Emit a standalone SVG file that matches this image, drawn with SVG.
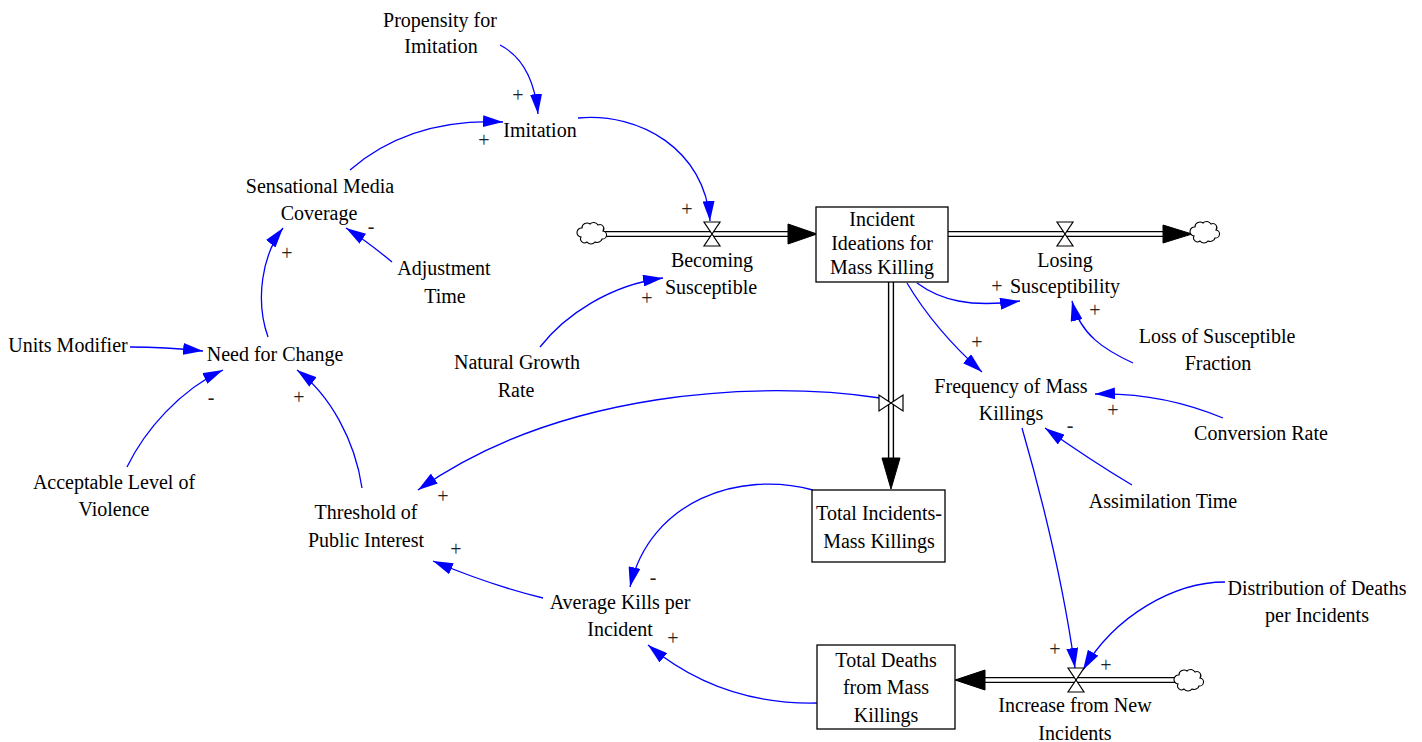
<svg xmlns="http://www.w3.org/2000/svg" width="1422" height="742" viewBox="0 0 1422 742">
<style>
text{font-family:"Liberation Serif","Times New Roman",serif;font-size:20px;fill:#000;text-anchor:middle}
.sg{font-size:20px;fill:#222}
.lk{fill:none;stroke:#0000ff;stroke-width:1.3;marker-end:url(#ah)}
.box{fill:#fff;stroke:#000;stroke-width:1.3}
.po{fill:none;stroke:#000;stroke-width:6.2}
.pi{fill:none;stroke:#fff;stroke-width:3.4}
.fh{fill:#000;stroke:#000;stroke-width:1}
.vl{fill:#fff;stroke:#000;stroke-width:1.2}
.cl{fill:#fff;stroke:#000;stroke-width:1.1}
</style>
<defs>
<marker id="ah" markerUnits="userSpaceOnUse" markerWidth="20" markerHeight="12" viewBox="0 0 20 12" refX="20" refY="6" orient="auto">
<path d="M0,0 L20,6 L0,12 z" fill="#0000ff"/>
</marker>
<path id="cloud" d="M-10,-6 a5,5 0 0 1 8,-4 a5,5 0 0 1 8,1 a4,4 0 0 1 5,6 a4,4 0 0 1 -1,8 a5,5 0 0 1 -7,3 a5,5 0 0 1 -8,0 a4,4 0 0 1 -6,-5 a4,4 0 0 1 1,-9 z"/>
</defs>
<rect width="1422" height="742" fill="#fff"/>

<g id="flows">
<path class="po" d="M603,234 H790"/><path class="pi" d="M603,234 H790"/>
<polygon class="fh" points="788,224 817,234 788,244"/>
<path class="po" d="M948,234 H1165"/><path class="pi" d="M948,234 H1165"/>
<polygon class="fh" points="1163,225 1192,234 1163,243"/>
<path class="po" d="M891,282 V460"/><path class="pi" d="M891,282 V460"/>
<polygon class="fh" points="882,458 891,489 900,458"/>
<path class="po" d="M1177,680 H983"/><path class="pi" d="M1177,680 H983"/>
<polygon class="fh" points="985,670 955,680 985,690"/>
</g>

<g id="connectors">
<path class="lk" d="M500,45 Q533,62 538,114"/>
<path class="lk" d="M350,170 Q410,118 503,122"/>
<path class="lk" d="M578,118 C640,112 705,150 710,221"/>
<path class="lk" d="M268,337 C255,300 262,255 283,228"/>
<path class="lk" d="M392,262 Q368,242 346,228"/>
<path class="lk" d="M130,347 Q165,347 203,351"/>
<path class="lk" d="M127,467 C145,430 180,390 223,370"/>
<path class="lk" d="M362,488 C355,440 330,395 297,370"/>
<path class="lk" d="M540,347 C565,315 610,285 663,278"/>
<path class="lk" d="M917,283 C940,300 970,308 1020,301"/>
<path class="lk" d="M1133,363 C1105,350 1080,335 1072,301"/>
<path class="lk" d="M907,283 Q935,330 982,372"/>
<path class="lk" d="M1223,418 Q1160,392 1095,394"/>
<path class="lk" d="M1132,485 Q1090,460 1045,428"/>
<path class="lk" d="M1022,428 Q1060,560 1075,668"/>
<path class="lk" d="M1225,582 C1175,582 1115,615 1083,670"/>
<path class="lk" d="M880,398 C760,380 560,390 418,490"/>
<path class="lk" d="M813,490 C740,470 650,500 630,587"/>
<path class="lk" d="M543,598 Q490,585 433,561"/>
<path class="lk" d="M817,703 Q720,705 648,645"/>
</g>

<g id="signs">
<text class="sg" x="518" y="102">+</text>
<text class="sg" x="484" y="147">+</text>
<text class="sg" x="687" y="216">+</text>
<text class="sg" x="647" y="305">+</text>
<text class="sg" x="287" y="260">+</text>
<text class="sg" x="371" y="233">-</text>
<text class="sg" x="211" y="404">-</text>
<text class="sg" x="299" y="404">+</text>
<text class="sg" x="997" y="293">+</text>
<text class="sg" x="1095" y="317">+</text>
<text class="sg" x="977" y="349">+</text>
<text class="sg" x="1113" y="417">+</text>
<text class="sg" x="1070" y="432">-</text>
<text class="sg" x="1055" y="656">+</text>
<text class="sg" x="1106" y="672">+</text>
<text class="sg" x="443" y="503">+</text>
<text class="sg" x="456" y="556">+</text>
<text class="sg" x="653" y="584">-</text>
<text class="sg" x="673" y="645">+</text>
</g>

<g id="cloud-left"><use href="#cloud" class="cl" transform="translate(592,234)"/></g>
<g id="cloud-right"><use href="#cloud" class="cl" transform="translate(1205,233)"/></g>
<g id="cloud-bottom"><use href="#cloud" class="cl" transform="translate(1189,681)"/></g>

<g id="becoming-susceptible">
<polygon class="vl" points="704,222 720,222 712,234"/>
<polygon class="vl" points="704,246 720,246 712,234"/>
<text x="712" y="267">Becoming</text>
<text x="711" y="294">Susceptible</text>
</g>
<g id="losing-susceptibility">
<polygon class="vl" points="1057,222 1073,222 1065,234"/>
<polygon class="vl" points="1057,246 1073,246 1065,234"/>
<text x="1065" y="267">Losing</text>
<text x="1065" y="293">Susceptibility</text>
</g>
<g id="frequency-valve">
<polygon class="vl" points="879,395 879,411 891,403"/>
<polygon class="vl" points="903,395 903,411 891,403"/>
</g>
<g id="increase-from-new-incidents">
<polygon class="vl" points="1068,668 1084,668 1076,680"/>
<polygon class="vl" points="1068,692 1084,692 1076,680"/>
<text x="1075" y="712">Increase from New</text>
<text x="1075" y="740">Incidents</text>
</g>

<g id="incident-ideations">
<rect class="box" x="816" y="207" width="132" height="75"/>
<text x="882" y="226">Incident</text>
<text x="882" y="250">Ideations for</text>
<text x="882" y="274">Mass Killing</text>
</g>
<g id="total-incidents">
<rect class="box" x="812" y="490" width="133" height="72"/>
<text x="879" y="520">Total Incidents-</text>
<text x="879" y="548">Mass Killings</text>
</g>
<g id="total-deaths">
<rect class="box" x="817" y="645" width="138" height="84"/>
<text x="886" y="667">Total Deaths</text>
<text x="886" y="694">from Mass</text>
<text x="886" y="722">Killings</text>
</g>

<g id="propensity"><text x="440" y="27">Propensity for</text><text x="441" y="53">Imitation</text></g>
<g id="imitation"><text x="540" y="137">Imitation</text></g>
<g id="sensational-media"><text x="320" y="193">Sensational Media</text><text x="319" y="220">Coverage</text></g>
<g id="adjustment-time"><text x="444" y="275">Adjustment</text><text x="445" y="303">Time</text></g>
<g id="units-modifier"><text x="68" y="352">Units Modifier</text></g>
<g id="need-for-change"><text x="275" y="361">Need for Change</text></g>
<g id="acceptable-level"><text x="114" y="489">Acceptable Level of</text><text x="114" y="516">Violence</text></g>
<g id="natural-growth"><text x="517" y="369">Natural Growth</text><text x="516" y="397">Rate</text></g>
<g id="loss-fraction"><text x="1217" y="343">Loss of Susceptible</text><text x="1218" y="370">Fraction</text></g>
<g id="frequency"><text x="1011" y="393">Frequency of Mass</text><text x="1011" y="420">Killings</text></g>
<g id="conversion-rate"><text x="1261" y="440">Conversion Rate</text></g>
<g id="assimilation-time"><text x="1163" y="508">Assimilation Time</text></g>
<g id="threshold"><text x="366" y="519">Threshold of</text><text x="366" y="547">Public Interest</text></g>
<g id="average-kills"><text x="620" y="609">Average Kills per</text><text x="620" y="636">Incident</text></g>
<g id="distribution"><text x="1317" y="595">Distribution of Deaths</text><text x="1317" y="622">per Incidents</text></g>
</svg>
